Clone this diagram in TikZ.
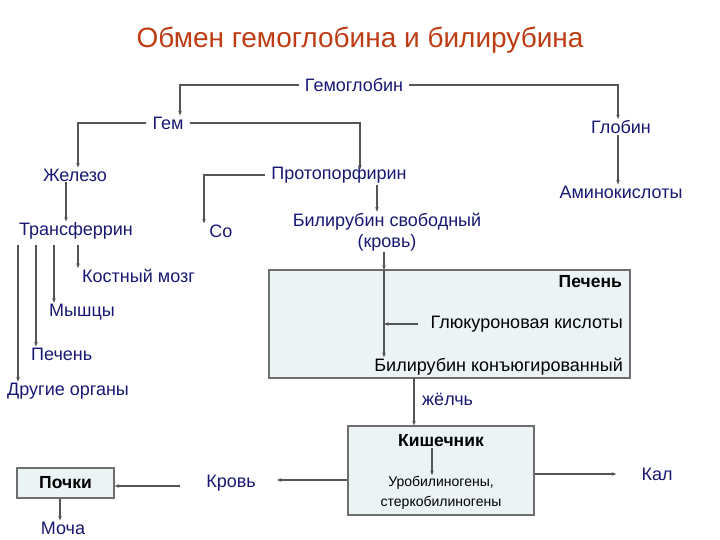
\documentclass[tikz,border=0pt]{standalone}
\usepackage{fontspec}
\setmainfont{Liberation Sans}
\usetikzlibrary{arrows.meta,calc}
\definecolor{navy}{RGB}{24,24,115}
\definecolor{titlec}{RGB}{190,60,20}
\definecolor{linec}{RGB}{85,85,85}
\definecolor{boxfill}{RGB}{236,243,245}
\definecolor{boxline}{RGB}{110,110,110}
\begin{document}
\begin{tikzpicture}[x=1pt,y=-1pt,
  lbl/.style={font=\fontsize{18}{21}\selectfont, text=navy, inner xsep=6pt, inner ysep=1pt},
  blbl/.style={font=\bfseries\fontsize{17.5}{20}\selectfont, text=black, inner sep=1pt},
  small/.style={font=\fontsize{14}{20}\selectfont, text=black, inner sep=1pt, align=center},
  arr/.style={draw=linec, line width=1.3pt, -{Stealth[length=4.5pt,width=3.5pt]}},
  bx/.style={draw=boxline, line width=1.3pt, fill=boxfill}]
\useasboundingbox (0,0) rectangle (720,540);
% title
\node[font=\fontsize{28}{32}\selectfont, text=titlec] (title) at (360,40) {Обмен гемоглобина и билирубина};
% top nodes
\node[lbl] (hb) at (354,85) {Гемоглобин};
\node[lbl] (gem) at (168,123) {Гем};
\node[lbl] (glob) at (621,127) {Глобин};
\node[lbl] (fe) at (75,175) {Железо};
\node[lbl] (proto) at (339,175) {Протопорфирин};
\node[lbl] (amino) at (621,192) {Аминокислоты};
\node[lbl] (transf) at (76,231) {Трансферрин};
\node[lbl] (co) at (221,231) {Co};
\node[lbl, align=center] (bil) at (387,232) {Билирубин свободный\\(кровь)};
% branches of transferrin
\node[lbl, anchor=west, inner xsep=0pt] (bone) at (82,276) {Костный мозг};
\node[lbl, anchor=west, inner xsep=0pt] (musc) at (49,312) {Мышцы};
\node[lbl, anchor=west, inner xsep=0pt] (liv2) at (31,354) {Печень};
\node[lbl, anchor=west, inner xsep=0pt] (other) at (7,391) {Другие органы};
% liver box
\node[bx, minimum width=361pt, minimum height=108pt, inner sep=0pt] (liver) at (449.5,324) {};
\node[blbl, anchor=east] (liverlbl) at (623,282) {Печень};
\node[lbl, text=black, anchor=east, inner xsep=0pt] (gluc) at (623,324) {Глюкуроновая кислоты};
\node[lbl, text=black, anchor=east, inner xsep=0pt] (conj) at (623,367) {Билирубин конъюгированный};
\node[lbl, anchor=west, inner xsep=0pt] (bile) at (422,399) {жёлчь};
% intestine box
\node[bx, minimum width=186pt, minimum height=89pt, inner sep=0pt] (kish) at (441,470.5) {};
\node[blbl] (kishlbl) at (441,441) {Кишечник};
\node[small] (uro) at (441,493) {Уробилиногены,\\стеркобилиногены};
\node[lbl] (kal) at (657,474) {Кал};
\node[lbl] (krov) at (231,483) {Кровь};
\node[bx, minimum width=97pt, minimum height=30pt, inner sep=0pt] (pochki) at (65.5,483) {};
\node[blbl] (pochkilbl) at (65.5,483) {Почки};
\node[lbl] (mocha) at (63,528) {Моча};
% connectors
\draw[arr] (hb.west) -| ([xshift=12pt]gem.north);
\draw[arr] (hb.east) -| ([xshift=-3pt]glob.north);
\draw[arr] (glob.south -| 618,0) -- (amino.north -| 618,0);
\draw[arr] (gem.west) -| ([xshift=3pt]fe.north);
\draw[arr] (gem.east) -| ([xshift=21pt,yshift=-4pt]proto.north);
\draw[arr] ([xshift=-9pt]fe.south) -- ([xshift=-9pt]fe.south |- transf.north);
\draw[arr] (proto.west) -| ([xshift=-17pt]co.north);
\draw[arr] ([xshift=38pt]proto.south) -- ([xshift=38pt]proto.south |- bil.north);
\coordinate (ltop) at (384,270);
\draw[arr] (bil.south -| ltop) -- (ltop);
\draw[arr] (ltop) -- (conj.north -| ltop);
\draw[arr] ([xshift=-12pt]gluc.west) -- (gluc.west -| ltop);
\coordinate (lbot) at (414,378);
\draw[arr] (lbot) -- (kish.north -| lbot);
\draw[arr] (kishlbl.south -| 432,0) -- (uro.north -| 432,0);
\draw[arr] (kish.east |- 0,474) -- ([xshift=-19pt]kal.west);
\draw[arr] (kish.west |- 0,480) -- (277,480);
\draw[arr] (180,486) -- (pochki.east |- 0,486);
\draw[arr] (pochki.south -| 60,0) -- (mocha.north -| 60,0);
% transferrin branches
\draw[arr] (78,245) -- (bone.north -| 78,0);
\draw[arr] (54,245) -- (musc.north -| 54,0);
\draw[arr] (36,245) -- (liv2.north -| 36,0);
\draw[arr] (18,245) -- (other.north -| 18,0);
\end{tikzpicture}
\end{document}
